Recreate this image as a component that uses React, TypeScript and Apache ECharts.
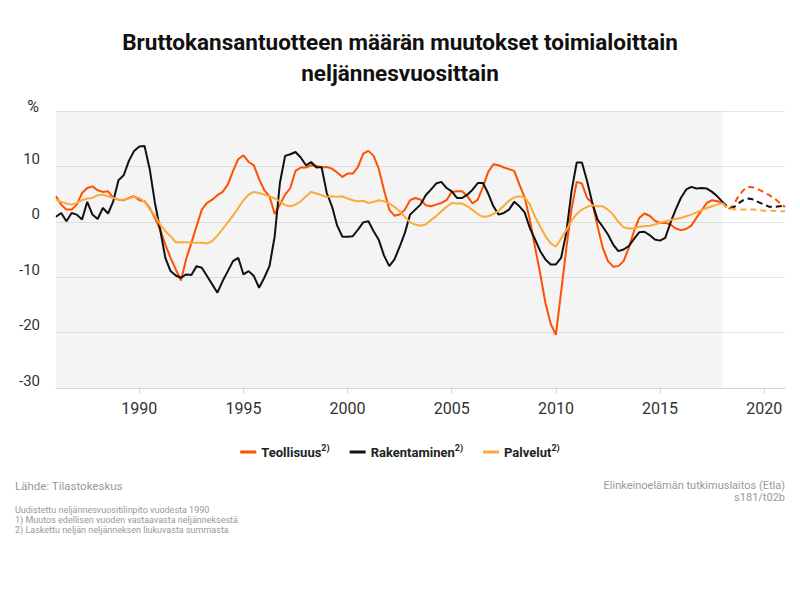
import * as echarts from 'echarts'
import { useEffect, useRef } from 'react'

// neljännekset 1986Q1 … 2018Q1, ennuste 2018Q1 … 2021Q1
const firstYear = 1986
const forecastStart = 2018
const lastYear = 2021

const teollisuus = [
  4.6, 3.1, 2.2, 2.2, 3.1, 5.2, 6.1, 6.4, 5.7, 5.4, 5.5, 4.3, 4.0, 3.9, 4.3, 4.6,
  3.9, 3.7, 2.5, 0.7, -1.4, -4.1, -6.5, -8.6, -10.6, -6.7, -3.8, -0.8, 2.2, 3.4, 4.0, 4.8,
  5.4, 6.7, 9.2, 11.3, 12.0, 10.8, 10.2, 7.7, 5.7, 4.6, 1.4, 3.1, 4.9, 6.1, 9.2, 9.8,
  9.8, 10.2, 10.1, 9.8, 9.9, 9.6, 8.9, 8.1, 8.7, 8.7, 9.9, 12.3, 12.8, 11.9, 9.5, 5.7,
  2.2, 1.1, 1.3, 2.2, 3.9, 4.3, 4.0, 3.0, 2.8, 3.1, 3.4, 3.9, 5.4, 5.5, 5.5, 4.6,
  3.3, 4.0, 6.3, 9.0, 10.4, 10.2, 9.8, 9.5, 9.2, 6.7, 4.4, 0.4, -4.6, -9.4, -14.7, -18.4,
  -20.4, -12.7, -4.9, 2.3, 7.2, 6.9, 4.3, 3.4, -0.8, -4.7, -7.1, -8.1, -8.0, -7.1, -4.7, -1.7,
  0.7, 1.5, 1.1, 0.2, -0.2, -0.2, -0.5, -1.2, -1.5, -1.3, -0.7, 0.7, 2.1, 3.4, 3.9, 3.7,
  3.5,
]
const rakentaminen = [
  0.9, 1.6, 0.1, 1.6, 1.3, 0.4, 3.6, 1.3, 0.5, 2.5, 1.5, 3.7, 7.5, 8.4, 11.0, 12.8,
  13.6, 13.7, 9.5, 3.4, -1.4, -6.5, -8.9, -9.7, -10.1, -9.5, -9.6, -8.0, -8.3, -9.8, -11.3, -12.8,
  -10.7, -8.9, -7.1, -6.5, -9.5, -8.9, -9.8, -11.9, -10.1, -8.0, -2.6, 7.0, 11.9, 12.2, 12.6, 11.6,
  10.2, 10.8, 9.8, 9.9, 5.2, 2.8, -0.7, -2.7, -2.7, -2.6, -1.4, -0.1, 0.1, -1.7, -3.3, -6.1,
  -8.0, -6.8, -4.5, -2.0, 1.3, 2.2, 3.1, 4.8, 5.8, 6.9, 7.2, 6.1, 5.5, 4.3, 4.3, 4.9,
  5.8, 7.0, 7.0, 5.1, 2.8, 1.3, 1.6, 2.2, 3.6, 2.8, 1.7, -1.1, -3.2, -5.3, -6.8, -7.7,
  -7.7, -6.5, -2.0, 5.5, 10.7, 10.7, 7.3, 3.4, 0.4, -0.9, -2.3, -4.1, -5.3, -5.0, -4.4, -3.1,
  -1.9, -1.8, -2.4, -3.2, -3.4, -2.9, -0.2, 2.2, 4.3, 5.8, 6.3, 6.0, 6.1, 6.0, 5.4, 4.6,
  3.6,
]
const palvelut = [
  4.0, 3.6, 3.3, 3.1, 3.4, 3.9, 4.2, 4.3, 4.8, 4.9, 4.6, 4.3, 4.0, 4.0, 4.2, 4.5,
  4.3, 3.6, 2.3, 1.1, -0.5, -1.7, -2.6, -3.7, -3.7, -3.7, -3.8, -3.8, -3.8, -3.9, -3.5, -2.5,
  -1.3, -0.1, 1.1, 2.5, 3.9, 4.9, 5.4, 5.2, 4.9, 4.6, 4.2, 3.7, 3.0, 2.8, 3.1, 3.7,
  4.6, 5.4, 5.1, 4.8, 4.5, 4.6, 4.5, 4.6, 4.2, 3.9, 3.7, 3.8, 3.4, 3.6, 3.9, 3.7,
  3.3, 2.7, 1.9, 0.9, -0.1, -0.5, -0.7, -0.5, 0.3, 1.0, 1.9, 2.7, 3.4, 3.3, 3.3, 2.8,
  2.1, 1.4, 0.9, 1.0, 1.4, 2.0, 2.9, 3.8, 4.4, 4.6, 4.4, 3.1, 0.9, -0.9, -2.6, -3.9,
  -4.5, -3.0, -1.5, 0.2, 1.4, 2.2, 2.7, 3.0, 2.8, 2.8, 2.2, 1.3, 0.0, -1.0, -1.2, -1.2,
  -0.9, -0.8, -0.7, -0.5, -0.2, 0.1, 0.3, 0.5, 0.7, 1.0, 1.3, 1.7, 2.1, 2.5, 2.8, 3.1,
  3.4,
]

const teollisuusEnnuste = [3.5, 2.2, 2.9, 4.5, 5.7, 6.3, 6.2, 5.8, 5.3, 4.8, 4.2, 3.4, 2.7]
const rakentaminenEnnuste = [3.6, 2.7, 2.5, 3.3, 3.9, 4.2, 4.0, 3.5, 3.1, 2.7, 2.7, 2.8, 2.9]
const palvelutEnnuste = [3.4, 2.5, 2.3, 2.2, 2.2, 2.2, 2.2, 2.1, 2.0, 2.0, 2.0, 1.9, 1.9]

const yearLabels = Array.from({ length: lastYear - firstYear + 1 }, (_, i) => String(firstYear + i))

const COLORS = { teollisuus: '#ff4f00', rakentaminen: '#111111', palvelut: '#fbab3a' }

const footnotes = [
  'Uudistettu neljännesvuositilinpito vuodesta 1990',
  '1) Muutos edellisen vuoden vastaavasta neljänneksestä',
  '2) Laskettu neljän neljänneksen liukuvasta summasta',
]

/** neljännesarvot -> [vuosi, arvo] */
function toPoints(values: number[], start: number) {
  return values.map((v, i) => [start + i / 4, v])
}

const isLabelYear = (_: number, v: string) => Number(v) % 5 === 0

export default function App() {
  const ref = useRef<HTMLDivElement>(null)

  useEffect(() => {
    document.body.style.margin = '0'
    if (!ref.current) return
    const chart = echarts.init(ref.current, null, { renderer: 'svg' })

    const solid = (name: string, color: string, values: number[]) => ({
      name,
      type: 'line',
      xAxisIndex: 0,
      data: toPoints(values, firstYear),
      showSymbol: false,
      lineStyle: { width: 2, color },
      itemStyle: { color },
    })
    const dashed = (name: string, color: string, values: number[]) => ({
      name,
      type: 'line',
      xAxisIndex: 0,
      data: toPoints(values, forecastStart),
      showSymbol: false,
      lineStyle: { width: 2, color, type: [6, 4] },
      itemStyle: { color },
    })

    chart.setOption({
      animation: false,
      textStyle: { fontFamily: 'Roboto, sans-serif' },
      title: {
        text: 'Bruttokansantuotteen määrän muutokset toimialoittain\nneljännesvuosittain',
        left: 'center',
        top: 21,
        textStyle: { fontSize: 22.5, fontWeight: 'bold', lineHeight: 31, color: '#111', fontFamily: 'Roboto' },
      },
      legend: {
        top: 438,
        left: 'center',
        itemWidth: 16,
        itemHeight: 3,
        itemGap: 20,
        icon: 'rect',
        data: ['Teollisuus', 'Rakentaminen', 'Palvelut'],
        formatter: (name: string) => `{n|${name}}{s|2)}`,
        textStyle: {
          rich: {
            n: { fontSize: 13, fontWeight: 'bold', color: '#222', lineHeight: 18, fontFamily: 'Roboto' },
            s: { fontSize: 9, fontWeight: 'bold', color: '#222', verticalAlign: 'top', lineHeight: 12, fontFamily: 'Roboto' },
          },
        },
      },
      grid: { left: 56, right: 15, top: 111, bottom: 212 },
      xAxis: [
        { type: 'value', min: firstYear, max: lastYear, show: false, position: 'bottom' },
        {
          type: 'category',
          position: 'bottom',
          data: yearLabels,
          boundaryGap: false,
          axisLine: { lineStyle: { color: '#ccd6eb' } },
          axisTick: { interval: isLabelYear, length: 6, lineStyle: { color: '#ccd6eb' } },
          axisLabel: { interval: isLabelYear, fontSize: 16, color: '#333', margin: 12 },
          splitLine: { show: false },
        },
      ],
      yAxis: {
        type: 'value',
        min: -30,
        max: 20,
        interval: 10,
        name: '%',
        nameLocation: 'end',
        nameGap: -3,
        nameTextStyle: { fontSize: 16, color: '#333', align: 'right', verticalAlign: 'bottom', padding: [0, 17, 0, 0] },
        axisLine: { show: false },
        axisTick: { show: false },
        axisLabel: { showMaxLabel: false, fontSize: 15, color: '#333', margin: 16, verticalAlign: 'bottom' },
        splitLine: { lineStyle: { color: '#e6e6e6' } },
      },
      series: [
        {
          ...solid('Teollisuus', COLORS.teollisuus, teollisuus),
          markArea: {
            silent: true,
            itemStyle: { color: 'rgba(0,0,0,0.045)' },
            data: [[{ xAxis: firstYear }, { xAxis: forecastStart }]],
          },
        },
        solid('Rakentaminen', COLORS.rakentaminen, rakentaminen),
        solid('Palvelut', COLORS.palvelut, palvelut),
        dashed('Teollisuus', COLORS.teollisuus, teollisuusEnnuste),
        dashed('Rakentaminen', COLORS.rakentaminen, rakentaminenEnnuste),
        dashed('Palvelut', COLORS.palvelut, palvelutEnnuste),
      ],
      graphic: [
        { type: 'text', left: 15, top: 480, style: { text: 'Lähde: Tilastokeskus', fill: '#999', font: '11.5px Roboto' } },
        {
          type: 'text',
          right: 15,
          top: 480,
          style: { text: 'Elinkeinoelämän tutkimuslaitos (Etla)', fill: '#999', font: '11px Roboto' },
        },
        { type: 'text', right: 15, top: 492, style: { text: 's181/t02b', fill: '#999', font: '11px Roboto' } },
        {
          type: 'text',
          left: 15,
          top: 505,
          style: { text: footnotes.join('\n'), fill: '#999', font: '9px Roboto', lineHeight: 10 },
        },
      ],
    })

    return () => chart.dispose()
  }, [])

  return <div ref={ref} style={{ width: 800, height: 600 }} />
}
